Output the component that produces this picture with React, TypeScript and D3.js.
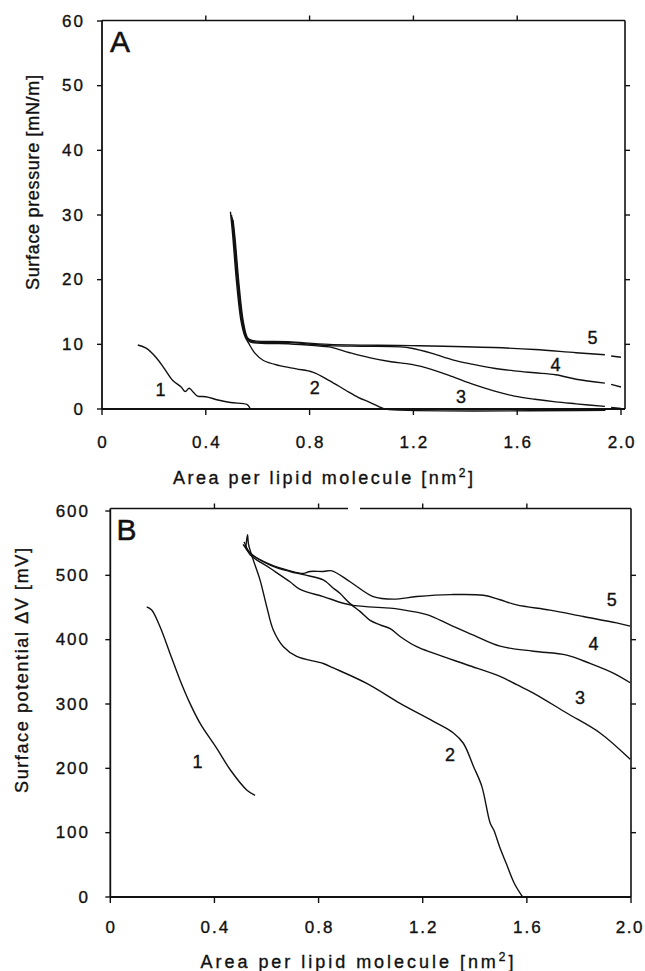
import React from "react";
import * as d3 from "d3";

type P = [number, number] | null;

// ---------- shared axis data ----------
const areaTicks = [0, 0.4, 0.8, 1.2, 1.6, 2.0];
const areaTickLabels = ["0", "0.4", "0.8", "1.2", "1.6", "2.0"];
const pressureTicks = [0, 10, 20, 30, 40, 50, 60];
const potentialTicks = [0, 100, 200, 300, 400, 500, 600];

// ---------- Panel A : surface pressure [mN/m] vs area [nm2] ----------
const pressure1: P[] = [
  [0.138, 9.9], [0.17, 9.4], [0.21, 7.9], [0.241, 6.2], [0.273, 4.4], [0.305, 3.4],
  [0.321, 2.7], [0.336, 3.2], [0.352, 2.6], [0.368, 2.0], [0.4, 1.9], [0.447, 1.4],
  [0.495, 1.0], [0.558, 0.7], [0.568, 0.3], [0.57, 0],
];
const pressure2: P[] = [
  [0.495, 30.5], [0.503, 27.2], [0.519, 19.4], [0.535, 13.8], [0.551, 11.2], [0.566, 10.1],
  [0.59, 8.6], [0.622, 7.5], [0.685, 6.7], [0.749, 6.2], [0.812, 5.7], [0.876, 4.4],
  [0.939, 2.9], [0.987, 1.8], [1.034, 1.0], [1.082, 0.1], [1.106, -0.1], [1.94, -0.2],
];
const pressure3: P[] = [
  [0.499, 30.0], [0.507, 26.8], [0.523, 19.2], [0.539, 13.6], [0.555, 11.1], [0.57, 10.4],
  [0.717, 10.1], [0.82, 9.8], [0.876, 9.6], [0.955, 8.7], [1.034, 7.9], [1.114, 7.3],
  [1.193, 6.9], [1.272, 6.1], [1.351, 5.0], [1.431, 3.8], [1.51, 2.8], [1.589, 2.0],
  [1.668, 1.5], [1.748, 1.1], [1.827, 0.8], [1.938, 0.4], null, [1.962, 0.25], [2.0, 0.1],
];
const pressure4: P[] = [
  [0.502, 29.6], [0.51, 26.5], [0.526, 19.0], [0.542, 13.5], [0.558, 11.0], [0.574, 10.5],
  [0.717, 10.3], [0.876, 9.8], [1.0, 9.7], [1.15, 9.6], [1.193, 9.4], [1.272, 8.6],
  [1.351, 7.6], [1.431, 6.9], [1.51, 6.3], [1.589, 5.9], [1.668, 5.6], [1.748, 5.3],
  [1.827, 4.6], [1.938, 4.0], null, [1.962, 3.8], [2.0, 3.4],
];
const pressure5: P[] = [
  [0.505, 29.2], [0.513, 26.2], [0.529, 18.8], [0.545, 13.4], [0.561, 11.0], [0.578, 10.6],
  [0.717, 10.4], [0.876, 10.0], [1.193, 9.8], [1.51, 9.5], [1.668, 9.2], [1.827, 8.7],
  [1.938, 8.4], null, [1.962, 8.2], [2.0, 8.0],
];
const pressureSeries = [pressure1, pressure2, pressure3, pressure4, pressure5];
const pressureLabelText = ["1", "2", "3", "4", "5"];
const pressureLabelPos: [number, number][] = [
  [0.225, 2.9], [0.82, 3.2], [1.383, 1.85], [1.748, 6.8], [1.89, 11.0],
];

// ---------- Panel B : surface potential dV [mV] vs area [nm2] ----------
const potential1: P[] = [
  [0.14, 451], [0.159, 446], [0.191, 420], [0.229, 379], [0.268, 337], [0.306, 301],
  [0.345, 270], [0.409, 231], [0.462, 197], [0.525, 166], [0.556, 158],
];
const potential2: P[] = [
  [0.521, 545], [0.527, 563], [0.531, 548], [0.549, 524], [0.575, 493], [0.601, 451],
  [0.626, 415], [0.665, 389], [0.716, 374], [0.818, 363], [0.857, 356], [0.985, 332],
  [1.113, 301], [1.241, 273], [1.318, 255], [1.356, 239], [1.395, 203], [1.427, 172],
  [1.459, 115], [1.473, 104], [1.497, 76], [1.521, 52], [1.552, 21], [1.584, 0],
];
const potential3: P[] = [
  [0.514, 552], [0.537, 535], [0.614, 516], [0.69, 506], [0.742, 501], [0.818, 493],
  [0.857, 480], [0.882, 472], [0.921, 456], [0.959, 444], [0.998, 430], [1.036, 423],
  [1.075, 417], [1.113, 405], [1.177, 389], [1.241, 379], [1.369, 361], [1.497, 343],
  [1.561, 330], [1.625, 317], [1.753, 286], [1.881, 255], [1.997, 214],
];
const potential4: P[] = [
  [0.517, 547], [0.537, 532], [0.614, 511], [0.69, 490], [0.729, 478], [0.818, 467],
  [0.921, 454], [1.075, 449], [1.113, 447], [1.216, 439], [1.305, 423], [1.395, 407],
  [1.497, 390], [1.625, 382], [1.753, 376], [1.843, 363], [1.932, 348], [1.997, 333],
];
const potential5: P[] = [
  [0.51, 548], [0.537, 534], [0.614, 517], [0.69, 507], [0.742, 503], [0.767, 506],
  [0.818, 506], [0.851, 507], [0.921, 490], [1.01, 467], [1.087, 463], [1.177, 467],
  [1.305, 470], [1.433, 469], [1.497, 462], [1.561, 454], [1.689, 446], [1.817, 436],
  [1.945, 426], [1.997, 421],
];
const potentialSeries = [potential1, potential2, potential3, potential4, potential5];
const potentialLabelText = ["1", "2", "3", "4", "5"];
const potentialLabelPos: [number, number][] = [
  [0.335, 210], [1.305, 221], [1.804, 309], [1.856, 393], [1.926, 462],
];

const FONT = "'Liberation Sans', Arial, Helvetica, sans-serif";
const INK = "#111";
const TEXT_STROKE = 0.35;

type PanelProps = {
  xs: d3.ScaleLinear<number, number>;
  ys: d3.ScaleLinear<number, number>;
  yTicks: number[];
  series: P[][];
  labelText: string[];
  labelPos: [number, number][];
  letter: string;
  letterPos: [number, number];
  yLabel: string;
  yLabelPos: [number, number];
  yLabelLen: number;
  yTickEnd: number;
  xTickY: number;
  xTitlePos: [number, number];
  xTitleLen: number;
  frameTop: number;
  frameRight: number;
  topGap?: [number, number];
};

function Panel(p: PanelProps) {
  const { xs, ys } = p;
  const x0 = xs(0);
  const yBottom = ys(0);
  const line = d3
    .line<P>()
    .defined((d) => d !== null)
    .x((d) => xs((d as [number, number])[0]))
    .y((d) => ys((d as [number, number])[1]))
    .curve(d3.curveCatmullRom.alpha(0.5));
  const topSegs: [number, number][] = p.topGap
    ? [[x0, p.topGap[0]], [p.topGap[1], p.frameRight]]
    : [[x0, p.frameRight]];
  const textProps = { fontFamily: FONT, fill: INK, stroke: INK, strokeWidth: TEXT_STROKE };
  return (
    <g>
      {/* frame */}
      <line x1={x0} x2={x0} y1={p.frameTop} y2={yBottom} stroke={INK} strokeWidth={1.8} />
      <line x1={x0} x2={p.frameRight} y1={yBottom} y2={yBottom} stroke={INK} strokeWidth={1.8} />
      <line x1={p.frameRight} x2={p.frameRight} y1={p.frameTop} y2={yBottom} stroke={INK} strokeWidth={1.6} />
      {topSegs.map((s, i) => (
        <line key={i} x1={s[0]} x2={s[1]} y1={p.frameTop} y2={p.frameTop} stroke={INK} strokeWidth={1.6} />
      ))}
      {/* ticks */}
      {p.yTicks.map((t) => (
        <g key={"y" + t}>
          <line x1={x0 - 5} x2={x0} y1={ys(t)} y2={ys(t)} stroke={INK} strokeWidth={1.4} />
          {t > 0 && t < p.yTicks[p.yTicks.length - 1] && (
            <line x1={p.frameRight} x2={p.frameRight + 5} y1={ys(t)} y2={ys(t)} stroke={INK} strokeWidth={1.4} />
          )}
          <text
            x={p.yTickEnd}
            y={ys(t)}
            textAnchor="end"
            dominantBaseline="central"
            fontSize={17}
            letterSpacing={2}
            {...textProps}
          >
            {String(t)}
          </text>
        </g>
      ))}
      {areaTicks.map((t, i) => {
        const last = i === areaTicks.length - 1;
        return (
          <g key={"x" + t}>
            <line x1={xs(t)} x2={xs(t)} y1={yBottom} y2={yBottom + 6} stroke={INK} strokeWidth={1.4} />
            {t > 0 && t < 2 && (
              <line x1={xs(t)} x2={xs(t)} y1={p.frameTop - 5} y2={p.frameTop} stroke={INK} strokeWidth={1.4} />
            )}
            <text
              x={last ? Math.min(xs(t) + 15, 644) : xs(t) + 1}
              y={p.xTickY}
              textAnchor={last ? "end" : "middle"}
              dominantBaseline="central"
              fontSize={17}
              letterSpacing={last ? 1.5 : 2}
              {...textProps}
            >
              {areaTickLabels[i]}
            </text>
          </g>
        );
      })}
      {/* curves */}
      {p.series.map((s, i) => (
        <path key={"c" + i} d={line(s) || ""} fill="none" stroke={INK} strokeWidth={1.4} strokeLinejoin="round" />
      ))}
      {/* curve labels */}
      {p.labelPos.map((pos, i) => (
        <text
          key={"l" + i}
          x={xs(pos[0])}
          y={ys(pos[1])}
          textAnchor="middle"
          dominantBaseline="central"
          fontSize={18}
          {...textProps}
        >
          {p.labelText[i]}
        </text>
      ))}
      {/* panel letter */}
      <text x={p.letterPos[0]} y={p.letterPos[1]} fontSize={30} {...textProps} strokeWidth={0.5}>
        {p.letter}
      </text>
      {/* axis titles */}
      <text
        transform={`translate(${p.yLabelPos[0]},${p.yLabelPos[1]}) rotate(-90)`}
        textAnchor="middle"
        fontSize={18}
        textLength={p.yLabelLen}
        lengthAdjust="spacing"
        {...textProps}
      >
        {p.yLabel}
      </text>
      <text
        x={p.xTitlePos[0]}
        y={p.xTitlePos[1]}
        textAnchor="middle"
        fontSize={18}
        textLength={p.xTitleLen}
        lengthAdjust="spacing"
        {...textProps}
      >
        Area per lipid molecule [nm<tspan dy={-7} fontSize={12}>2</tspan>
        <tspan dy={7}>]</tspan>
      </text>
    </g>
  );
}

export default function App() {
  const xA = d3.scaleLinear().domain([0, 2]).range([102, 621]);
  const yA = d3.scaleLinear().domain([0, 60]).range([409, 21]);
  const xB = d3.scaleLinear().domain([0, 2]).range([110.3, 631]);
  const yB = d3.scaleLinear().domain([0, 600]).range([897, 511]);
  return (
    <svg
      width={645}
      height={971}
      style={{ position: "absolute", left: 0, top: 0, background: "#fff" }}
    >
      <rect width={645} height={971} fill="#fff" />
      <Panel
        xs={xA}
        ys={yA}
        yTicks={pressureTicks}
        series={pressureSeries}
        labelText={pressureLabelText}
        labelPos={pressureLabelPos}
        letter="A"
        letterPos={[110, 51.5]}
        yLabel="Surface pressure [mN/m]"
        yLabelPos={[39, 182.5]}
        yLabelLen={215}
        yTickEnd={85}
        xTickY={442}
        xTitlePos={[323, 484]}
        xTitleLen={300}
        frameTop={20.5}
        frameRight={625}
      />
      <Panel
        xs={xB}
        ys={yB}
        yTicks={potentialTicks}
        series={potentialSeries}
        labelText={potentialLabelText}
        labelPos={potentialLabelPos}
        letter="B"
        letterPos={[116.5, 540]}
        yLabel="Surface potential ΔV [mV]"
        yLabelPos={[28, 670.5]}
        yLabelLen={245}
        yTickEnd={90}
        xTickY={927}
        xTitlePos={[357, 968]}
        xTitleLen={313}
        frameTop={508.5}
        frameRight={631}
        topGap={[348, 360]}
      />
    </svg>
  );
}
